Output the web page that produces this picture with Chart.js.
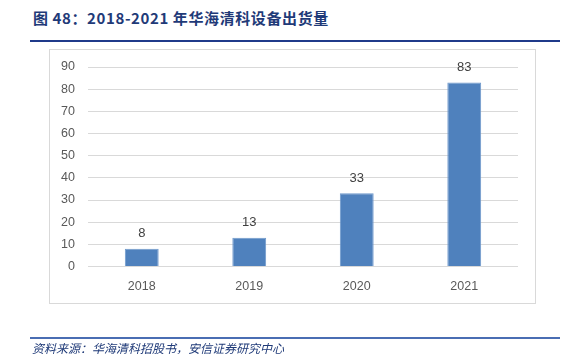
<!DOCTYPE html>
<html>
<head>
<meta charset="utf-8">
<script src="https://cdn.jsdelivr.net/npm/chart.js@4.4.0/dist/chart.umd.min.js"></script>
<style>
  body { margin: 0; background: #fff; }
  #wrap { position: relative; width: 563px; height: 354px; overflow: hidden; }
  #title { position: absolute; left: 33px; top: 7px; font: bold 15px "Noto Sans CJK SC", sans-serif; color: #1f3a78; white-space: nowrap; letter-spacing: 0.6px; }
  #topline { position: absolute; left: 30px; top: 40px; width: 530px; height: 2px; background: #1f3a8a; }
  #box { position: absolute; left: 49px; top: 49px; width: 485px; height: 253px; border: 1px solid #d9d9d9; }
  #bottomline { position: absolute; left: 30px; top: 337px; width: 530px; height: 2px; background: #4a6db3; }
  #source { position: absolute; left: 32px; top: 339px; font: italic 12px "Noto Sans CJK SC", sans-serif; color: #1f3a78; white-space: nowrap; }
  canvas { position: absolute; left: 0; top: 0; }
</style>
</head>
<body>
<div id="wrap">
  <div id="title">图 48：2018-2021 年华海清科设备出货量</div>
  <div id="topline"></div>
  <div id="box"></div>
  <canvas id="chart" width="563" height="354"></canvas>
  <div id="bottomline"></div>
  <div id="source">资料来源：华海清科招股书，安信证券研究中心</div>
</div>
<script>
// ---------- Data ----------
const years = ['2018', '2019', '2020', '2021'];
const shipments = [8, 13, 33, 83];
const yTicks = [0, 10, 20, 30, 40, 50, 60, 70, 80, 90];

// ---------- Value labels above bars ----------
const valueLabels = {
    id: 'valueLabels',
    afterDatasetsDraw(chart) {
        const ctx = chart.ctx;
        const meta = chart.getDatasetMeta(0);
        ctx.save();
        ctx.font = '13px "Liberation Sans", "DejaVu Sans", sans-serif';
        ctx.fillStyle = '#404040';
        ctx.textAlign = 'center';
        ctx.textBaseline = 'middle';
        meta.data.forEach((bar, i) => {
            ctx.fillText(String(shipments[i]), bar.x, bar.y - 15);
        });
        ctx.restore();
    }
};

const ctx = document.getElementById('chart').getContext('2d');
new Chart(ctx, {
    type: 'bar',
    data: {
        labels: years,
        datasets: [{
            data: shipments,
            backgroundColor: '#4f81bd',
            borderColor: '#6f99cc',
            borderWidth: 1,
            categoryPercentage: 1,
            barPercentage: 0.315
        }]
    },
    options: {
        responsive: false,
        animation: false,
        layout: { padding: { left: 49, right: 45, top: 67, bottom: 57.5 } },
        plugins: { legend: { display: false }, tooltip: { enabled: false } },
        scales: {
            x: {
                grid: { display: false },
                border: { display: false },
                ticks: { color: '#595959', font: { size: 12.5, family: '"Liberation Sans", "DejaVu Sans", sans-serif' }, padding: 5 },
                afterFit(scale) { scale.height = 30; }
            },
            y: {
                min: 0,
                max: 90,
                afterBuildTicks(scale) { scale.ticks = yTicks.map(v => ({ value: v })); },
                grid: { color: '#d9d9d9', drawTicks: false },
                border: { display: false },
                ticks: { color: '#595959', font: { size: 12.5, family: '"Liberation Sans", "DejaVu Sans", sans-serif' }, padding: 13 },
                afterFit(scale) { scale.width = 39; }
            }
        }
    },
    plugins: [valueLabels]
});
</script>
</body>
</html>
